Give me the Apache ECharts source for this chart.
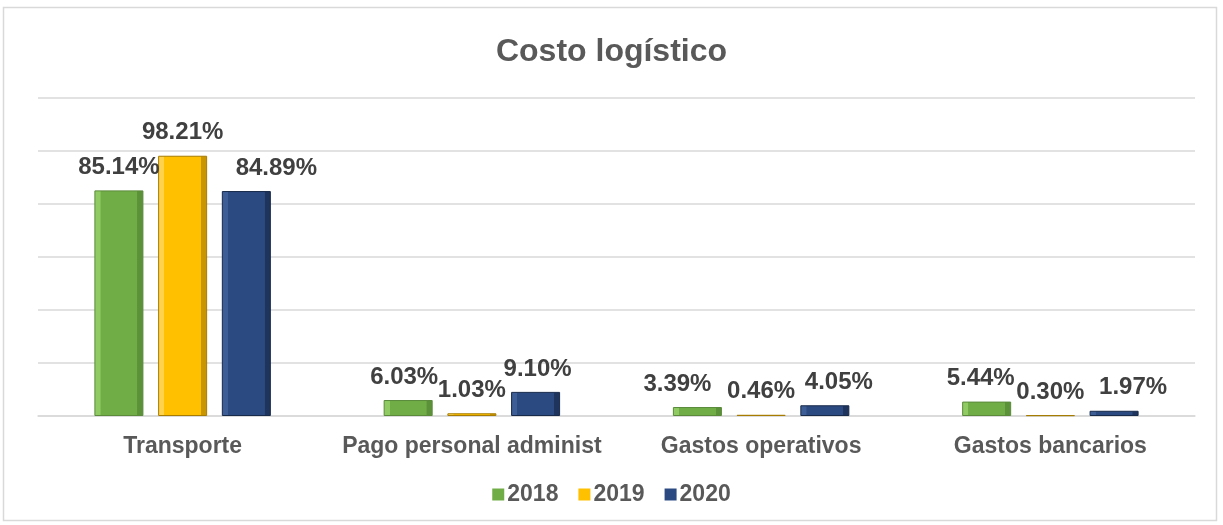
<!DOCTYPE html>
<html>
<head>
<meta charset="utf-8">
<script src="https://cdn.jsdelivr.net/npm/echarts@6/dist/echarts.min.js"></script>
<style>
  html, body { margin: 0; padding: 0; background: #fff; }
  #chart { width: 1223px; height: 525px; }
</style>
</head>
<body>
<div id="chart"></div>
<script>
const categories = ['Transporte', 'Pago personal administ', 'Gastos operativos', 'Gastos bancarios']
const years = ['2018', '2019', '2020']
const values2018 = [85.14, 6.03, 3.39, 5.44]
const values2019 = [98.21, 1.03, 0.46, 0.30]
const values2020 = [84.89, 9.10, 4.05, 1.97]

// bevel-ish look: light left edge, main fill, dark right edge
function bevel (light, main, dark) {
  return new echarts.graphic.LinearGradient(0, 0, 1, 0, [
    { offset: 0, color: light },
    { offset: 0.12, color: light },
    { offset: 0.13, color: main },
    { offset: 0.87, color: main },
    { offset: 0.88, color: dark },
    { offset: 1, color: dark }
  ])
}

const styles = [
  { fill: bevel('#8fcb62', '#70ad47', '#5b9138'), border: '#5a8a3a', legend: '#70ad47' },
  { fill: bevel('#ffd24d', '#ffc000', '#c99500'), border: '#a77c00', legend: '#ffc000' },
  { fill: bevel('#3d5d96', '#2c4a82', '#1e345d'), border: '#172a4a', legend: '#2c4a82' }
]

// Excel nudged a few labels sideways to avoid overlaps
const labelNudge = [
  [0, -4, -20, -6],
  [0, 0, 0, 0],
  [30, 2, 14, 19]
]

const allValues = [values2018, values2019, values2020]

const chart = echarts.init(document.getElementById('chart'))
chart.setOption({
  backgroundColor: '#fff',
  textStyle: { fontFamily: 'Liberation Sans, Arial, sans-serif' },
  title: {
    text: 'Costo logístico',
    left: 'center',
    top: 31,
    textStyle: { fontSize: 32, fontWeight: 'bold', color: '#595959' }
  },
  graphic: [{
    type: 'rect',
    shape: { x: 3.5, y: 7.5, width: 1213, height: 513 },
    style: { fill: 'none', stroke: '#d9d9d9', lineWidth: 1.5 },
    silent: true
  }],
  legend: {
    bottom: 14,
    left: 'center',
    itemWidth: 12,
    itemHeight: 12,
    itemGap: 20,
    icon: 'rect',
    textStyle: { fontSize: 23, fontWeight: 'bold', color: '#595959', padding: [0, 0, 0, -2] },
    data: years
  },
  grid: { left: 38, right: 28, top: 98, bottom: 109, containLabel: false },
  xAxis: {
    type: 'category',
    data: categories,
    axisLine: { lineStyle: { color: '#d9d9d9', width: 1.5 } },
    axisTick: { show: false },
    axisLabel: { interval: 0, fontSize: 23, fontWeight: 'bold', color: '#595959', margin: 19 }
  },
  yAxis: {
    type: 'value',
    min: 0,
    max: 120,
    interval: 20,
    axisLabel: { show: false },
    axisLine: { show: false },
    axisTick: { show: false },
    splitLine: { lineStyle: { color: '#d9d9d9', width: 1.5 } }
  },
  series: years.map((y, i) => ({
    name: y,
    type: 'bar',
    barGap: '30%',
    barCategoryGap: '39%',
    itemStyle: { color: styles[i].legend },
    data: allValues[i].map((v, j) => ({
      value: v,
      itemStyle: { color: styles[i].fill, borderColor: styles[i].border, borderWidth: 1 },
      label: { offset: [labelNudge[i][j], 0] }
    })),
    label: {
      show: true,
      position: 'top',
      distance: 11,
      fontSize: 24,
      fontWeight: 'bold',
      color: '#404040',
      formatter: p => p.value.toFixed(2) + '%'
    }
  }))
})
</script>
</body>
</html>
